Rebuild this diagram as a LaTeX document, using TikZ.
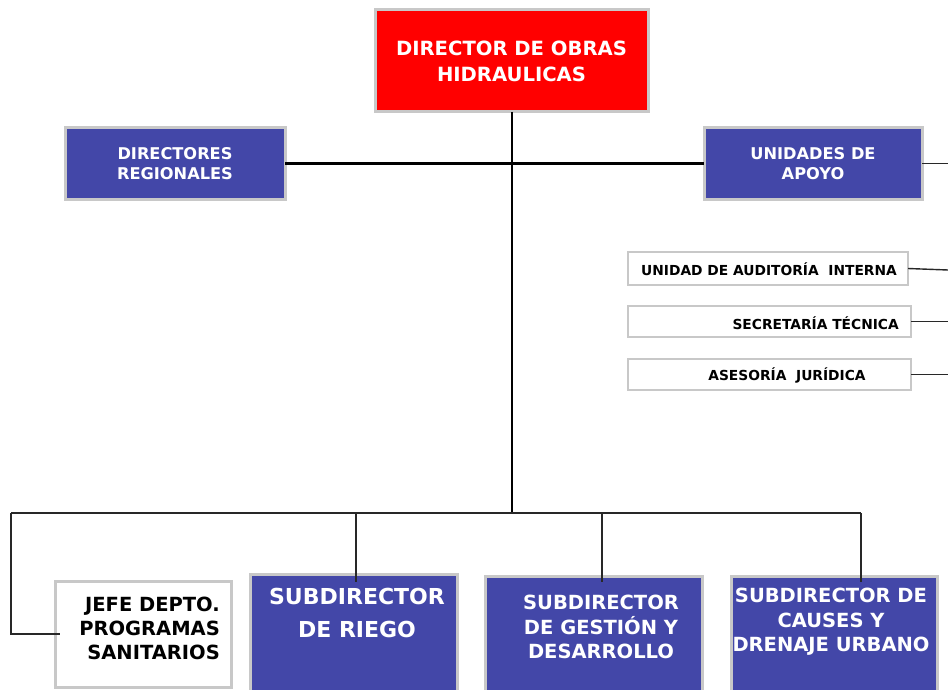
\documentclass[tikz,border=0pt]{standalone}
\usepackage{fontspec}
\setmainfont{DejaVu Sans}
\usetikzlibrary{calc}
\definecolor{boxblue}{RGB}{67,71,168}
\definecolor{boxred}{RGB}{255,0,0}
\definecolor{boxedge}{RGB}{200,200,200}
\definecolor{linecol}{RGB}{40,40,40}
\begin{document}
\begin{tikzpicture}[x=1pt,y=-1pt,
  box/.style={draw=boxedge, line width=3pt, inner sep=0pt, outer sep=0pt, anchor=north west},
  bluebox/.style={box, fill=boxblue, text=white},
  redbox/.style={box, fill=boxred, text=white},
  whitebox/.style={box, fill=white, line width=2.5pt},
  wtext/.style={text=white, inner sep=0pt},
  btext/.style={text=black, inner sep=0pt},
  conn/.style={draw=linecol, line width=1.4pt},
  thickconn/.style={draw=black, line width=2.4pt}]
\useasboundingbox (0,0) rectangle (948,690);
\clip (0,0) rectangle (948,690);
\fill[white] (0,0) rectangle (948,690);

% coordinates
\coordinate (hub) at (511,513);
\coordinate (busL) at (11,513);
\coordinate (busR) at (861,513);
\coordinate (rt0) at (948,164);
\coordinate (rt1) at (948,270);
\coordinate (rt2) at (948,322);
\coordinate (rt3) at (948,373);

% boxes
\node[redbox, minimum width=273pt, minimum height=102pt, align=center,
  font=\bfseries\fontsize{19.6}{26}\selectfont] (dir) at (375,10)
  {DIRECTOR DE OBRAS\\HIDRAULICAS};
\node[bluebox, minimum width=220pt, minimum height=71pt, align=center,
  font=\bfseries\fontsize{16.2}{20}\selectfont] (dreg) at (65,128)
  {DIRECTORES\\REGIONALES};
\node[bluebox, minimum width=218pt, minimum height=71pt, align=center,
  font=\bfseries\fontsize{16.2}{20}\selectfont] (uap) at (704,128)
  {UNIDADES DE\\APOYO};

\node[whitebox, minimum width=280pt, minimum height=33pt] (aud) at (628,252) {};
\node[btext, font=\bfseries\fontsize{13.8}{15}\selectfont] (audt) at (769,269)
  {UNIDAD DE AUDITORÍA\ \ INTERNA};
\node[whitebox, minimum width=283pt, minimum height=31pt] (sec) at (628,306) {};
\node[btext, anchor=east, font=\bfseries\fontsize{13.8}{15}\selectfont] (sect) at (899,323) {SECRETARÍA TÉCNICA};
\node[whitebox, minimum width=283pt, minimum height=31pt] (ase) at (628,359) {};
\node[btext, font=\bfseries\fontsize{13.8}{15}\selectfont] (aset) at (787,375) {ASESORÍA\ \ JURÍDICA};

\node[whitebox, line width=3pt, minimum width=176pt, minimum height=106pt] (jefe) at (55,581) {};
\node[btext, anchor=east, align=right, font=\bfseries\fontsize{19.5}{24}\selectfont] (jefet) at (220,628)
  {JEFE DEPTO.\\PROGRAMAS\\SANITARIOS};

\node[bluebox, minimum width=207pt, minimum height=130pt] (riego) at (250,574) {};
\node[wtext, align=center, font=\bfseries\fontsize{22}{33}\selectfont] (riegot) at (357,613)
  {SUBDIRECTOR\\DE RIEGO};

\node[bluebox, minimum width=217pt, minimum height=130pt] (gest) at (485,576) {};
\node[wtext, align=center, font=\bfseries\fontsize{19.5}{24.5}\selectfont] (gestt) at (601,627)
  {SUBDIRECTOR\\DE GESTIÓN Y\\DESARROLLO};

\node[bluebox, minimum width=206pt, minimum height=130pt] (caus) at (731,576) {};
\node[wtext, align=center, font=\bfseries\fontsize{19.5}{24.5}\selectfont] (caust) at (831,622)
  {SUBDIRECTOR DE\\CAUSES Y\\DRENAJE URBANO};

% connectors
\draw[thickconn, line width=2pt] (dir.south) -- (dir.south |- hub);
\draw[thickconn] (dreg.east) -- (uap.west);
\draw[conn] (uap.east) -- (uap.east -| rt0);
\draw[conn] (aud.east) -- (rt1);
\draw[conn] (sec.east) -- (sec.east -| rt2);
\draw[conn] (ase.east) -- (ase.east -| rt3);
\draw[conn] (busL) -- (busR);
\draw[conn] (busL) -- (busL |- jefe.west) -- ($(jefe.west)+(5,0)$);
\draw[conn] (356,513) -- (356,582);
\draw[conn] (602,513) -- (602,582);
\draw[conn] (busR) -- (861,582);
\end{tikzpicture}
\end{document}
